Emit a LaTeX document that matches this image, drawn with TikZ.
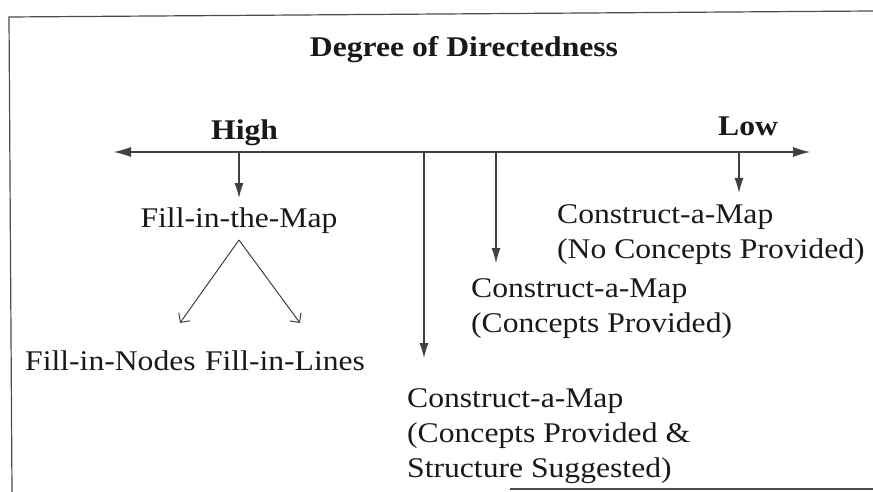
\documentclass[tikz,border=0pt]{standalone}
\usepackage{fontspec}
\setmainfont{Liberation Serif}[FakeStretch=1.11]
\usetikzlibrary{arrows.meta,positioning}
\newcommand{\labelfont}{\fontsize{28.5}{35}\selectfont}
\tikzset{
  lbl/.style={inner sep=0pt, font=\labelfont, text=black!90},
  hd/.style={lbl, font=\labelfont\bfseries},
  pointer/.style={-{Latex[length=15pt,width=9pt]}, line width=1.1pt, draw=black!75},
  branch/.style={-{Straight Barb[length=7pt,width=14pt]}, line width=1pt, draw=black!75},
}
\begin{document}
\begin{tikzpicture}[x=1pt, y=-1pt]
    \useasboundingbox (0,0) rectangle (873,492);
    % 1. Khung
    \draw[line width=1.2pt, black!70] (12,492) -- (9,17) -- (873,11);
    \draw[line width=1.2pt, black!70] (510,489) -- (873,489);

    % 2. Tiêu đề và trục
    \node[hd, anchor=base] (title) at (464,57) {Degree of Directedness};
    \node[hd, anchor=base west] (high) at (211,140) {High};
    \node[hd, anchor=base west] (low) at (718,136) {Low};
    \coordinate (left) at (114,152);
    \coordinate (right) at (810,152);
    \draw[{Latex[length=17pt,width=10pt]}-{Latex[length=17pt,width=10pt]}, line width=1.1pt, black!75] (left) -- (right);

    % 3. Các nhãn
    \node[lbl, anchor=base] (fitm) at (239,227) {Fill-in-the-Map};
    \node[lbl, anchor=base west] (finodes) at (25,370) {Fill-in-Nodes};
    \node[lbl, anchor=base west] (filines) at ([xshift=9]finodes.base east) {Fill-in-Lines};
    \node[lbl, anchor=north west, align=left] (camnone) at (557,204)
        {Construct-a-Map\\(No Concepts Provided)};
    \node[lbl, anchor=north west, align=left] (camcon) at (471,278)
        {Construct-a-Map\\(Concepts Provided)};
    \node[lbl, anchor=north west, align=left] (camstr) at (407,388)
        {Construct-a-Map\\(Concepts Provided \&\\Structure Suggested)};

    % 4. Mũi tên
    \coordinate (a1) at (239,152);
    \coordinate (a2) at (424,152);
    \coordinate (a3) at (496,152);
    \coordinate (a4) at (739,152);
    \draw[pointer] (a1) -- (239,198);
    \draw[pointer] (a2) -- (424,358);
    \draw[pointer] (a3) -- (496,263);
    \draw[pointer] (a4) -- (739,193);
    \coordinate (apex) at (239,240);
    \coordinate (tnodes) at (180,323);
    \coordinate (tlines) at (300,323);
    \draw[branch] (apex) -- (tnodes);
    \draw[branch] (apex) -- (tlines);
\end{tikzpicture}
\end{document}
